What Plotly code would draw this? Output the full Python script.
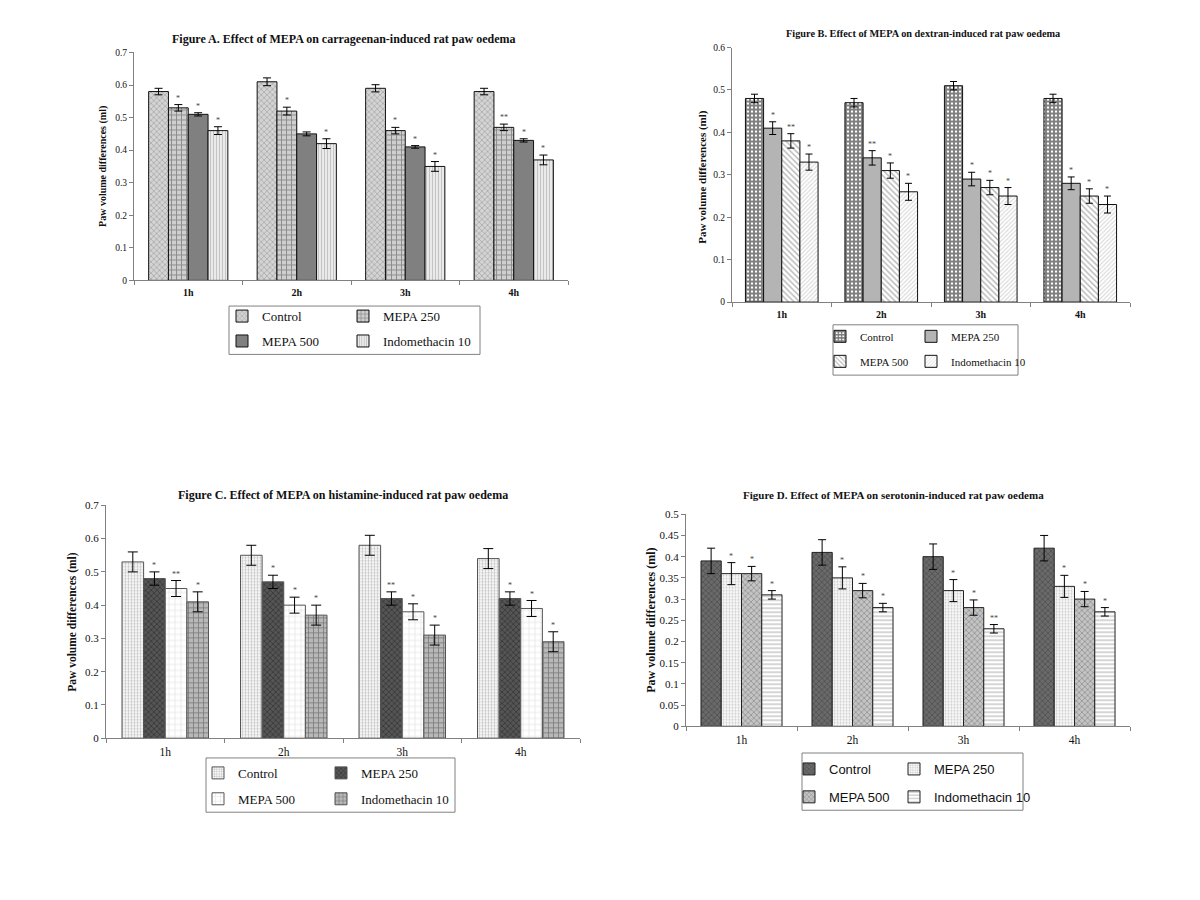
import plotly.graph_objects as go

TIMES = ["1h", "2h", "3h", "4h"]
NAMES = ["Control", "MEPA 250", "MEPA 500", "Indomethacin 10"]

# ---------------- Figure A : carrageenan ----------------
a_control = [0.58, 0.61, 0.59, 0.58]
a_mepa250 = [0.53, 0.52, 0.46, 0.47]
a_mepa500 = [0.51, 0.45, 0.41, 0.43]
a_indo = [0.46, 0.42, 0.35, 0.37]
a_control_err = [0.010, 0.012, 0.011, 0.010]
a_mepa250_err = [0.010, 0.012, 0.010, 0.010]
a_mepa500_err = [0.005, 0.006, 0.004, 0.005]
a_indo_err = [0.012, 0.015, 0.015, 0.015]
a_mepa250_sig = ["*", "*", "*", "**"]
a_mepa500_sig = ["*", "", "*", "*"]
a_indo_sig = ["*", "*", "*", "*"]

# ---------------- Figure B : dextran ----------------
b_control = [0.48, 0.47, 0.51, 0.48]
b_mepa250 = [0.41, 0.34, 0.29, 0.28]
b_mepa500 = [0.38, 0.31, 0.27, 0.25]
b_indo = [0.33, 0.26, 0.25, 0.23]
b_control_err = [0.010, 0.010, 0.010, 0.010]
b_mepa250_err = [0.015, 0.017, 0.016, 0.015]
b_mepa500_err = [0.017, 0.018, 0.017, 0.017]
b_indo_err = [0.019, 0.020, 0.020, 0.020]
b_mepa250_sig = ["*", "**", "*", "*"]
b_mepa500_sig = ["**", "*", "*", "*"]
b_indo_sig = ["*", "*", "*", "*"]

# ---------------- Figure C : histamine ----------------
c_control = [0.53, 0.55, 0.58, 0.54]
c_mepa250 = [0.48, 0.47, 0.42, 0.42]
c_mepa500 = [0.45, 0.40, 0.38, 0.39]
c_indo = [0.41, 0.37, 0.31, 0.29]
c_control_err = [0.030, 0.030, 0.030, 0.030]
c_mepa250_err = [0.020, 0.020, 0.020, 0.020]
c_mepa500_err = [0.024, 0.024, 0.024, 0.024]
c_indo_err = [0.030, 0.030, 0.030, 0.030]
c_mepa250_sig = ["*", "*", "**", "*"]
c_mepa500_sig = ["**", "*", "*", "*"]
c_indo_sig = ["*", "*", "*", "*"]

# ---------------- Figure D : serotonin ----------------
d_control = [0.39, 0.41, 0.40, 0.42]
d_mepa250 = [0.36, 0.35, 0.32, 0.33]
d_mepa500 = [0.36, 0.32, 0.28, 0.30]
d_indo = [0.31, 0.28, 0.23, 0.27]
d_control_err = [0.030, 0.030, 0.030, 0.030]
d_mepa250_err = [0.026, 0.026, 0.026, 0.026]
d_mepa500_err = [0.017, 0.017, 0.018, 0.018]
d_indo_err = [0.010, 0.010, 0.010, 0.010]
d_mepa250_sig = ["*", "*", "*", "*"]
d_mepa500_sig = ["*", "*", "*", "*"]
d_indo_sig = ["*", "*", "**", "*"]

W, H = 1200, 900
SERIF = "Liberation Serif"
SANS = "Liberation Sans"
BARGAP = 0.27


def fx(p):
    return p / W


def fy(p):
    return 1 - p / H


panels = [
    dict(key="A", xa="x", ya="y", xdom=(126, 560), ydom=(270, 39), ymax=0.7, dtick=0.1,
         title="Figure A. Effect of MEPA on carrageenan-induced rat paw oedema", title_xy=(336, 25),
         titlesize=12, ytitle_xy=(95, 155), tickfont=10, xtickbold=True, ytitlesize=10,
         values=[a_control, a_mepa250, a_mepa500, a_indo],
         errs=[a_control_err, a_mepa250_err, a_mepa500_err, a_indo_err],
         sigs=[None, a_mepa250_sig, a_mepa500_sig, a_indo_sig],
         patterns=[dict(shape="x", fgcolor="#6a6a6a", bgcolor="#d4d4d4", size=4, solidity=0.3),
                   dict(shape="+", fgcolor="#4a4a4a", bgcolor="#cfcfcf", size=5, solidity=0.35),
                   None,
                   dict(shape="|", fgcolor="#9a9a9a", bgcolor="#eeeeee", size=3, solidity=0.4)],
         solid=[None, None, "#808080", None],
         outline="#111111", capw=4,
         legbox=(221, 296, 472, 345), leg_text_x=(254, 375), leg_top=291, legfont=13, legfamily=SERIF,
         leggap=5, legs=("legend", "legend2")),
    dict(key="B", xa="x2", ya="y2", xdom=(724, 1122), ydom=(292, 34), ymax=0.6, dtick=0.1,
         title="Figure B. Effect of MEPA on dextran-induced rat paw oedema", title_xy=(915, 20),
         titlesize=10.3, ytitle_xy=(695, 165), tickfont=10, xtickbold=True, ytitlesize=11,
         values=[b_control, b_mepa250, b_mepa500, b_indo],
         errs=[b_control_err, b_mepa250_err, b_mepa500_err, b_indo_err],
         sigs=[None, b_mepa250_sig, b_mepa500_sig, b_indo_sig],
         patterns=[dict(shape="+", fgcolor="#000000", bgcolor="#ffffff", size=4, solidity=0.72),
                   None,
                   dict(shape="\\", fgcolor="#6a6a6a", bgcolor="#ffffff", size=4, solidity=0.35),
                   dict(shape="/", fgcolor="#b0b0b0", bgcolor="#ffffff", size=3, solidity=0.35)],
         solid=[None, "#b4b4b4", None, None],
         outline="#111111", capw=3.5,
         legbox=(825, 315, 1010, 366), leg_text_x=(852, 943), leg_top=312, legfont=11, legfamily=SERIF,
         leggap=6, legs=("legend3", "legend4")),
    dict(key="C", xa="x3", ya="y3", xdom=(98, 572), ydom=(734, 498), ymax=0.7, dtick=0.1,
         title="Figure C. Effect of MEPA on histamine-induced rat paw oedema", title_xy=(335, 487),
         titlesize=12, ytitle_xy=(65, 616), tickfont=11.5, xtickbold=False, ytitlesize=11.5,
         values=[c_control, c_mepa250, c_mepa500, c_indo],
         errs=[c_control_err, c_mepa250_err, c_mepa500_err, c_indo_err],
         sigs=[None, c_mepa250_sig, c_mepa500_sig, c_indo_sig],
         patterns=[dict(shape=".", fgcolor="#8a8a8a", bgcolor="#ffffff", size=3, solidity=0.45),
                   dict(shape="x", fgcolor="#1e1e1e", bgcolor="#555555", size=4, solidity=0.4),
                   dict(shape="+", fgcolor="#a8a8a8", bgcolor="#ffffff", size=6, solidity=0.15),
                   dict(shape="+", fgcolor="#3c3c3c", bgcolor="#b8b8b8", size=5, solidity=0.3)],
         solid=[None, None, None, None],
         outline="#555555", capw=5,
         legbox=(198, 754, 447, 809), leg_text_x=(230, 353), leg_top=754, legfont=13, legfamily=SERIF,
         leggap=6, legs=("legend5", "legend6")),
    dict(key="D", xa="x4", ya="y4", xdom=(678, 1122), ydom=(722, 507), ymax=0.5, dtick=0.05,
         title="Figure D. Effect of MEPA on serotonin-induced rat paw oedema", title_xy=(885, 488),
         titlesize=11, ytitle_xy=(643, 615), tickfont=11.5, xtickbold=False, ytitlesize=12,
         values=[d_control, d_mepa250, d_mepa500, d_indo],
         errs=[d_control_err, d_mepa250_err, d_mepa500_err, d_indo_err],
         sigs=[None, d_mepa250_sig, d_mepa500_sig, d_indo_sig],
         patterns=[dict(shape="x", fgcolor="#333333", bgcolor="#6a6a6a", size=4, solidity=0.35),
                   dict(shape=".", fgcolor="#a0a0a0", bgcolor="#f8f8f8", size=3, solidity=0.35),
                   dict(shape="x", fgcolor="#4a4a4a", bgcolor="#c4c4c4", size=4, solidity=0.3),
                   dict(shape="-", fgcolor="#8a8a8a", bgcolor="#ffffff", size=4, solidity=0.35)],
         solid=[None, None, None, None],
         outline="#222222", capw=4,
         legbox=(794, 749, 1015, 807), leg_text_x=(821, 926), leg_top=750, legfont=13, legfamily=SANS,
         leggap=8, legs=("legend7", "legend8")),
]

fig = go.Figure()
annotations = []
shapes = []
layout_extra = {}

bw = (1 - BARGAP) / 4

for p in panels:
    for j, name in enumerate(NAMES):
        pat = p["patterns"][j]
        legname = p["legs"][0] if j in (0, 2) else p["legs"][1]
        marker = dict(line=dict(color=p["outline"], width=1))
        if p["solid"][j]:
            marker["color"] = p["solid"][j]
        else:
            marker["color"] = pat["bgcolor"]
            marker["pattern"] = dict(shape=pat["shape"], fgcolor=pat["fgcolor"], bgcolor=pat["bgcolor"],
                                     size=pat["size"], solidity=pat["solidity"], fillmode="overlay")
        label = "<span style='font-family:%s'>%s</span>" % (p["legfamily"], name)
        fig.add_trace(go.Bar(
            x=TIMES, y=p["values"][j], name=label, xaxis=p["xa"], yaxis=p["ya"],
            marker=marker, offsetgroup=str(j),
            error_y=dict(type="data", array=p["errs"][j], color="#000000", thickness=1, width=p["capw"]),
            legend=legname, legendgroup=p["key"] + str(j), showlegend=True,
            hoverinfo="skip",
        ))
        sig = p["sigs"][j]
        if sig:
            for i, s in enumerate(sig):
                if not s:
                    continue
                annotations.append(dict(
                    x=i + (j - 1.5) * bw, y=p["values"][j][i] + p["errs"][j][i],
                    xref=p["xa"], yref=p["ya"], text=s, showarrow=False,
                    yanchor="bottom", yshift=0,
                    font=dict(family=SERIF, size=8, color="#444444")))

    xn = "xaxis" + p["xa"][1:]
    yn = "yaxis" + p["ya"][1:]
    layout_extra[xn] = dict(
        domain=[fx(p["xdom"][0]), fx(p["xdom"][1])], anchor=p["ya"],
        showline=True, linecolor="#808080", linewidth=1,
        ticks="outside", tickson="boundaries", ticklen=4, tickcolor="#808080",
        ticklabelstandoff=3,
        tickfont=dict(family=SERIF, size=p["tickfont"], color="#111111",
                      weight="bold" if p["xtickbold"] else "normal"),
        showgrid=False, zeroline=False, fixedrange=True,
    )
    layout_extra[yn] = dict(
        domain=[fy(p["ydom"][0]), fy(p["ydom"][1])], anchor=p["xa"],
        range=[0, p["ymax"]], dtick=p["dtick"], tick0=0,
        showline=True, linecolor="#808080", linewidth=1,
        ticks="outside", ticklen=4, tickcolor="#808080",
        tickfont=dict(family=SERIF, size=p["tickfont"] - 0.5, color="#111111"),
        showgrid=False, zeroline=False, fixedrange=True,
    )
    # titles
    annotations.append(dict(
        x=fx(p["title_xy"][0]), y=fy(p["title_xy"][1]), xref="paper", yref="paper",
        text="<b>" + p["title"] + "</b>", showarrow=False, xanchor="center", yanchor="middle",
        font=dict(family=SERIF, size=p["titlesize"], color="#111111")))
    annotations.append(dict(
        x=fx(p["ytitle_xy"][0]), y=fy(p["ytitle_xy"][1]), xref="paper", yref="paper",
        text="<b>Paw volume differences (ml)</b>", showarrow=False, textangle=-90,
        xanchor="center", yanchor="middle",
        font=dict(family=SERIF, size=p["ytitlesize"], color="#111111")))
    # legend box
    x0, y0, x1, y1 = p["legbox"]
    shapes.append(dict(type="rect", xref="paper", yref="paper",
                       x0=fx(x0), x1=fx(x1), y0=fy(y1), y1=fy(y0),
                       line=dict(color="#808080", width=1), fillcolor="rgba(0,0,0,0)"))
    for k, lg in enumerate(p["legs"]):
        layout_extra[lg] = dict(
            x=fx(p["leg_text_x"][k] - 40), y=fy(p["leg_top"]), xanchor="left", yanchor="top",
            orientation="v", bgcolor="rgba(0,0,0,0)", borderwidth=0,
            tracegroupgap=p["leggap"],
            font=dict(family=p["legfamily"], size=p["legfont"], color="#111111"),
        )

fig.update_layout(
    width=W, height=H, margin=dict(l=0, r=0, t=0, b=0),
    paper_bgcolor="white", plot_bgcolor="white",
    barmode="group", bargap=BARGAP, bargroupgap=0,
    annotations=annotations, shapes=shapes,
    **layout_extra,
)

fig.write_html("out.html")
